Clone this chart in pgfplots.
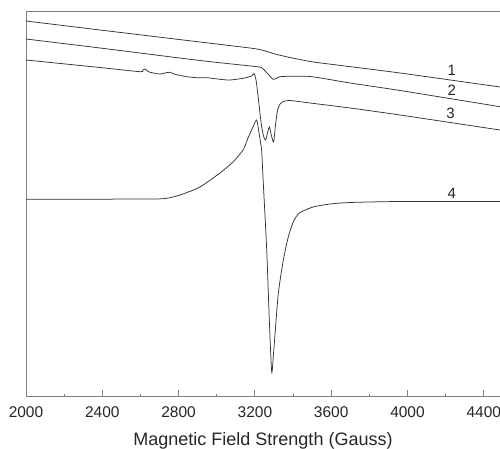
\documentclass[border=0pt]{standalone}
\usepackage{pgfplots}
\pgfplotsset{compat=1.18}
\usepackage{fontspec}
\setmainfont{Liberation Sans}
\setsansfont{Liberation Sans}

% EPR spectra; y is given as minus the pixel row of the reference
\pgfplotstableread{
x y
2000 -21
2388 -30
2912 -42
3174 -48
3237 -50
3305 -54
3384 -57.5
3489 -61.5
3567 -63.5
3961 -73
4485 -87
}\curveA

\pgfplotstableread{
x y
2000 -39
2388 -48
2912 -60.5
3201 -66.5
3237 -68
3269 -74
3295 -79.3
3316 -78
3342 -76.5
3489 -76.5
3699 -83
3961 -90.5
4485 -106.7
}\curveB

\pgfplotstableread{
x y
2000 -60
2388 -67.5
2598 -71.7
2612 -70
2624 -69
2637 -71
2650 -72.3
2702 -74
2740 -72.5
2755 -72.3
2781 -74.3
2844 -76.7
2896 -77.7
2949 -77.7
3017 -79.3
3069 -80
3138 -78.3
3183 -76
3195 -73.5
3206 -80
3219 -100
3232 -122
3245 -136
3256 -140
3266 -133
3276 -127
3286 -135
3298 -142
3308 -125
3319 -110
3332 -104
3348 -101.5
3384 -100.5
3489 -103
3699 -108
3961 -115
4485 -130
}\curveC

\pgfplotstableread{
x y
2000 -199.3
2650 -199
2737 -198.3
2790 -196
2823 -194
2912 -187
3017 -173
3085 -162
3138 -150
3164 -138
3190 -127
3209 -120
3221 -132
3235 -150
3244 -183
3262 -250
3275 -317
3288 -372
3297 -355
3306 -333
3323 -293
3349 -260
3375 -237
3401 -222
3433 -213
3505 -207
3594 -204
3699 -202.5
3961 -201.5
4485 -201.5
}\curveD

\begin{document}
\begin{tikzpicture}
\begin{axis}[
  scale only axis,
  width=474pt, height=385pt,
  xmin=2000, xmax=4485,
  ymin=-396, ymax=-11,
  axis x line*=box, axis y line*=left,
  xtick pos=bottom,
  axis line style={black!50, line width=0.8pt},
  xtick={2000,2400,...,4400},
  minor x tick num=1,
  ytick=\empty,
  tick align=inside,
  major tick length=6pt, minor tick length=2.5pt,
  tick style={black!50, line width=0.8pt},
  /pgf/number format/assume math mode=true,
  /pgf/number format/1000 sep={},
  xticklabel style={font=\fontsize{15.5}{17}\selectfont, black!85, yshift=-7pt},
  xlabel={Magnetic Field Strength (Gauss)},
  xlabel style={font=\fontsize{18}{20}\selectfont, black!85, yshift=-8pt},
  clip=false,
]
\addplot[black!80, line width=0.75pt, smooth, tension=0.4] table {\curveA};
\addplot[black!80, line width=0.75pt, smooth, tension=0.4] table {\curveB};
\addplot[black!80, line width=0.75pt, smooth, tension=0.4] table {\curveC};
\addplot[black!80, line width=0.75pt, smooth, tension=0.4] table {\curveD};
\node[font=\fontsize{15}{17}\selectfont, black!85] at (axis cs:4232,-70) {1};
\node[font=\fontsize{15}{17}\selectfont, black!85] at (axis cs:4232,-90.7) {2};
\node[font=\fontsize{15}{17}\selectfont, black!85] at (axis cs:4226,-113.3) {3};
\node[font=\fontsize{15}{17}\selectfont, black!85] at (axis cs:4232,-193.3) {4};
\end{axis}
\pgfresetboundingbox
\path[use as bounding box] (-26pt,-52pt) rectangle (474pt,396pt);
\end{tikzpicture}
\end{document}
